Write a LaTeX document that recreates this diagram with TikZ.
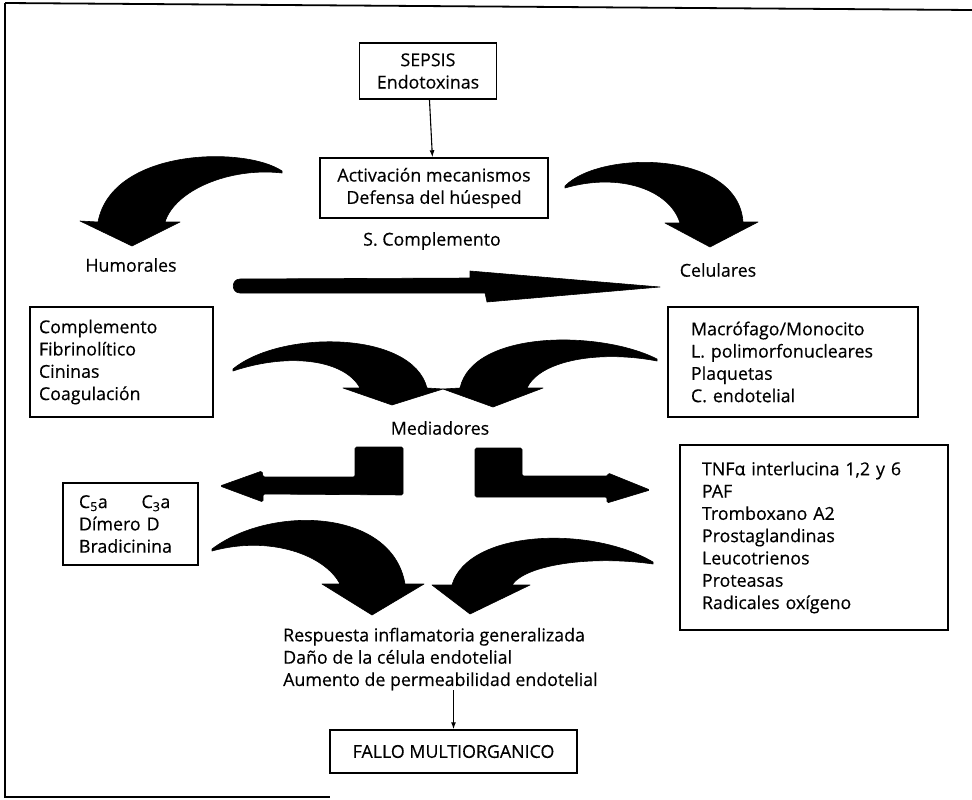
\documentclass[tikz,border=0pt]{standalone}
\usepackage{fontspec}
\setmainfont{Open Sans}[FakeBold=0.4]
\usetikzlibrary{arrows.meta}
\begin{document}
\begin{tikzpicture}[x=1pt,y=-1pt,
  box/.style={draw,line width=1.5pt,inner ysep=0pt},
  lbl/.style={inner sep=0pt,align=left},
  fat/.style={fill=black,draw=black,line width=0.6pt,line join=round},
  thin/.style={line width=1.1pt,-{Latex[length=7pt,width=5pt]}},
  frame/.style={line width=1.8pt}]
\useasboundingbox (0,0) rectangle (972,800);
\fill[white] (0,0) rectangle (972,800);
\fontsize{17.8}{22.3}\selectfont
% frame
\draw[frame] (5,3) -- (972,10);
\draw[frame] (5,3) -- (5,797) -- (330,797);

% boxes
\node[box,minimum width=137pt,minimum height=56pt,align=center] (sepsis) at (428,71) {SEPSIS\\Endotoxinas};
\node[box,minimum width=228pt,minimum height=60pt,align=center] (activ) at (434,188) {Activación mecanismos\\Defensa del húesped};
\node[lbl] (scomp) at (432,241) {S. Complemento};
\node[lbl] (humor) at (131,265) {Humorales};
\node[lbl] (celul) at (718,270) {Celulares};
\node[box,minimum width=183pt,minimum height=110pt,text width=165pt,inner xsep=9pt,align=left] (compl) at (121.5,362)
  {Complemento\\Fibrinolítico\\Cininas\\Coagulación};
\node[box,minimum width=250pt,minimum height=110pt,text width=204pt,inner xsep=23pt,align=left] (macro) at (793,362)
  {Macrófago/Monocito\\L. polimorfonucleares\\Plaquetas\\C. endotelial};
\node[lbl] (media) at (440,428) {Mediadores};
\node[box,minimum width=135pt,minimum height=82pt,text width=103pt,inner xsep=16pt,align=left] (cfive) at (130.5,524)
  {C\textsubscript{5}a\hspace{1.9em}C\textsubscript{3}a\\Dímero D\\Bradicinina};
\node[box,minimum width=268pt,minimum height=185pt,text width=224pt,inner xsep=22pt,align=left] (tnf) at (814,537.5)
  {TNFα interlucina 1,2 y 6\\PAF\\Tromboxano A2\\Prostaglandinas\\Leucotrienos\\Proteasas\\Radicales oxígeno};
\node[lbl,anchor=west] (resp) at (283,659)
  {Respuesta inflamatoria generalizada\\Daño de la célula endotelial\\Aumento de permeabilidad endotelial};
\node[box,minimum width=247pt,minimum height=43pt] (fallo) at (453.5,751.5) {FALLO MULTIORGANICO};

% small connectors
\draw[thin] (sepsis) -- (activ);
\draw[thin] (resp.south -| fallo.north) -- (fallo.north);

% top-left curved arrow
\filldraw[fat] (282,171) .. controls (245,146) and (112,148) .. (98,222)
  -- (80,221) -- (132,246) -- (180,222) -- (165,222)
  .. controls (175,190) and (230,167) .. (282,173) -- cycle;
% top-right curved arrow
\filldraw[fat] (565,186) .. controls (600,150) and (738,150) .. (743,222)
  -- (758,222) -- (710,247) -- (665,223) -- (680,223)
  .. controls (670,190) and (620,172) .. (565,188) -- cycle;
% big straight arrow
\filldraw[fat] (240,279) -- (470,278) -- (470,271) -- (660,287) -- (487,302) -- (485,293) -- (240,293)
  .. controls (231,293) and (231,279) .. (240,279) -- cycle;
% middle-left curved arrow
\filldraw[fat] (233,369) .. controls (280,330) and (412,330) .. (427,388)
  -- (443,389) -- (392,405) -- (343,388) -- (360,388)
  .. controls (345,360) and (290,352) .. (233,371) -- cycle;
% middle-right curved arrow
\filldraw[fat] (657,359) .. controls (600,330) and (473,330) .. (460,388)
  -- (443,389) -- (493,407) -- (543,388) -- (527,388)
  .. controls (540,360) and (600,350) .. (657,361) -- cycle;
% left L arrow
\filldraw[fat,rounded corners=1.5pt] (403,447) -- (403,495) -- (263,494) -- (263,502) -- (220,486)
  -- (262,471) -- (263,477) -- (355,477) -- (355,447) -- cycle;
% right L arrow
\filldraw[fat,rounded corners=1.5pt] (475,448) -- (522,448) -- (522,476) -- (608,476) -- (608,473)
  -- (650,490) -- (607,503) -- (607,497) -- (475,497) -- cycle;
% lower-left curved arrow
\filldraw[fat] (212,549) .. controls (270,505) and (392,508) .. (405,584)
  -- (424,584) -- (372,615) -- (322,584) -- (340,584)
  .. controls (325,555) and (270,535) .. (212,551) -- cycle;
% lower-right curved arrow
\filldraw[fat] (653,562) .. controls (590,525) and (468,530) .. (452,585)
  -- (432,585) -- (470,614) -- (530,585) -- (512,585)
  .. controls (525,565) and (590,555) .. (653,564) -- cycle;
\end{tikzpicture}
\end{document}
